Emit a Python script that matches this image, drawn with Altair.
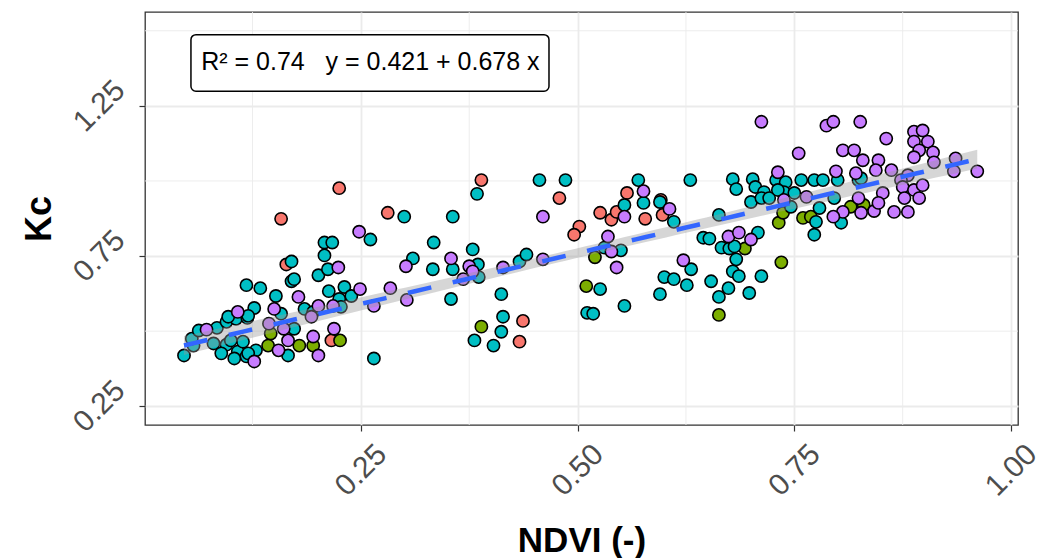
import altair as alt
import numpy as np
import pandas as pd

# ---- data ----
ndvi_red = [0.158, 0.225, 0.281, 0.164, 0.216, 0.389, 0.479, 0.502, 0.496, 0.526,
            0.539, 0.545, 0.557, 0.437, 0.433, 0.578, 0.598, 0.596]
kc_red = [0.874, 0.976, 0.894, 0.722, 0.469, 1.003, 0.943, 0.848, 0.821, 0.894,
          0.871, 0.897, 0.960, 0.534, 0.465, 0.874, 0.887, 0.937]

ndvi_green = [0.146, 0.143, 0.179, 0.195, 0.226, 0.389, 0.510, 0.520, 0.663, 0.693,
              0.735, 0.732, 0.737, 0.760, 0.769, 0.815, 0.830]
kc_green = [0.492, 0.452, 0.452, 0.452, 0.469, 0.515, 0.650, 0.746, 0.554, 0.775,
            0.729, 0.861, 0.894, 0.877, 0.881, 0.914, 0.920]

ndvi_cyan = [0.046, 0.057, 0.055, 0.063, 0.084, 0.095, 0.106, 0.119, 0.127, 0.118,
             0.134, 0.095, 0.108, 0.114, 0.118, 0.129, 0.104, 0.120, 0.097, 0.120,
             0.100, 0.080, 0.089, 0.152, 0.158, 0.185, 0.195, 0.173, 0.166, 0.170,
             0.170, 0.173, 0.201, 0.212, 0.208, 0.208, 0.217, 0.213, 0.231, 0.239,
             0.225, 0.227, 0.261, 0.265, 0.300, 0.356, 0.334, 0.310, 0.333, 0.356,
             0.354, 0.379, 0.385, 0.386, 0.433, 0.441, 0.412, 0.414, 0.412, 0.381,
             0.403, 0.384, 0.456, 0.486, 0.554, 0.531, 0.550, 0.526, 0.554, 0.511,
             0.518, 0.570, 0.630, 0.576, 0.595, 0.611, 0.679, 0.683, 0.702, 0.705,
             0.715, 0.729, 0.740, 0.700, 0.712, 0.721, 0.738, 0.750, 0.746, 0.663,
             0.645, 0.652, 0.708, 0.666, 0.675, 0.683, 0.679, 0.686, 0.712, 0.631,
             0.600, 0.611, 0.626, 0.595, 0.654, 0.674, 0.663, 0.698, 0.681, 0.758,
             0.773, 0.783, 0.800, 0.824, 0.779, 0.796, 0.775, 0.804, 0.773, 0.731,
             0.827]
kc_cyan = [0.419, 0.452, 0.475, 0.502, 0.511, 0.531, 0.541, 0.544, 0.577, 0.653,
           0.643, 0.455, 0.432, 0.465, 0.416, 0.436, 0.409, 0.426, 0.548, 0.551,
           0.469, 0.459, 0.426, 0.617, 0.558, 0.574, 0.564, 0.508, 0.419, 0.732,
           0.666, 0.673, 0.686, 0.706, 0.752, 0.795, 0.795, 0.633, 0.647, 0.617,
           0.607, 0.581, 0.805, 0.409, 0.881, 0.881, 0.795, 0.742, 0.706, 0.706,
           0.607, 0.772, 0.722, 0.680, 0.732, 0.755, 0.623, 0.548, 0.498, 0.469,
           0.452, 0.957, 1.003, 1.003, 0.920, 0.778, 0.769, 0.640, 0.584, 0.561,
           0.558, 1.003, 1.003, 0.927, 0.930, 0.864, 1.006, 0.973, 1.006, 0.980,
           0.963, 1.003, 0.996, 0.930, 0.943, 0.943, 0.963, 0.960, 0.914, 0.887,
           0.811, 0.808, 0.828, 0.778, 0.775, 0.739, 0.699, 0.683, 0.683, 0.706,
           0.680, 0.673, 0.653, 0.623, 0.666, 0.643, 0.614, 0.627, 0.782, 1.003,
           1.003, 1.003, 1.003, 1.003, 0.910, 0.943, 0.864, 0.861, 0.821, 0.970,
           1.009]

ndvi_purple = [0.072, 0.108, 0.127, 0.144, 0.150, 0.166, 0.155, 0.161, 0.178, 0.193,
               0.195, 0.201, 0.218, 0.219, 0.201, 0.224, 0.248, 0.302, 0.354, 0.375,
               0.379, 0.368, 0.414, 0.460, 0.460, 0.303, 0.284, 0.265, 0.249, 0.535,
               0.539, 0.545, 0.554, 0.576, 0.606, 0.622, 0.674, 0.686, 0.700, 0.712,
               0.787, 0.795, 0.826, 0.755, 0.856, 0.888, 0.898, 0.888, 0.904, 0.894,
               0.910, 0.888, 0.911, 0.936, 0.934, 0.961, 0.806, 0.819, 0.829, 0.847,
               0.844, 0.862, 0.798, 0.821, 0.731, 0.881, 0.873, 0.875, 0.888, 0.898,
               0.852, 0.877, 0.894, 0.842, 0.865, 0.881, 0.827, 0.847, 0.824, 0.806,
               0.795, 0.764, 0.738]
kc_purple = [0.505, 0.564, 0.399, 0.525, 0.574, 0.469, 0.436, 0.508, 0.614, 0.548,
             0.482, 0.584, 0.584, 0.508, 0.419, 0.712, 0.831, 0.716, 0.742, 0.716,
             0.699, 0.673, 0.712, 0.739, 0.881, 0.604, 0.643, 0.584, 0.640, 0.815,
             0.765, 0.712, 0.881, 0.966, 0.907, 0.736, 0.815, 0.828, 0.805, 1.197,
             1.184, 1.197, 1.197, 1.092, 1.141, 1.164, 1.168, 1.131, 1.131, 1.102,
             1.095, 1.079, 1.062, 1.075, 1.032, 1.032, 1.102, 1.102, 1.069, 1.069,
             1.036, 1.036, 1.032, 1.026, 1.029, 1.019, 1.003, 0.980, 0.970, 0.986,
             0.960, 0.943, 0.943, 0.900, 0.897, 0.897, 0.894, 0.927, 0.943, 0.897,
             0.881, 0.947, 0.937]

group_names = ["G1", "G2", "G3", "G4"]
group_colors = ["#F8766D", "#7CAE00", "#00BFC4", "#C77CFF"]

intercept = 0.421
slope = 0.678
r2_label = "R² = 0.74\u00a0\u00a0\u00a0y = 0.421 + 0.678 x"

x_major = [0.25, 0.50, 0.75, 1.00]
x_minor = [0.125, 0.375, 0.625, 0.875]
y_major = [0.25, 0.75, 1.25]
y_minor = [0.50, 1.00, 1.50]

# ---- build tables ----
series = [(ndvi_red, kc_red), (ndvi_green, kc_green),
          (ndvi_cyan, kc_cyan), (ndvi_purple, kc_purple)]
rows = []
for g, (xs, ys) in zip(group_names, series):
    for a, b in zip(xs, ys):
        rows.append({"ndvi": a, "kc": b, "group": g})
pts = pd.DataFrame(rows)

X = pts["ndvi"].to_numpy()
Y = pts["kc"].to_numpy()
n = len(X)
res = Y - (intercept + slope * X)
s = np.sqrt(np.sum(res ** 2) / (n - 2))
xbar = X.mean()
sxx = np.sum((X - xbar) ** 2)
xl = np.linspace(X.min(), X.max(), 80)
fitv = intercept + slope * xl
se = s * np.sqrt(1.0 / n + (xl - xbar) ** 2 / sxx)
fit = pd.DataFrame({"ndvi": xl, "fit": fitv, "lo": fitv - 1.97 * se, "hi": fitv + 1.97 * se})

xscale = alt.Scale(domain=[0.001, 1.008], nice=False, zero=False)
yscale = alt.Scale(domain=[0.1875, 1.5625], nice=False, zero=False)

FONT = "Liberation Sans"

xaxis = alt.Axis(values=x_major, format=".2f", labelAngle=-45, labelAlign="center",
                 labelBaseline="middle", labelPadding=39, labelFontSize=30,
                 labelColor="#4D4D4D", labelFont=FONT, labelFlush=False,
                 labelOverlap=False, title="NDVI (-)", titleFont=FONT,
                 titleFontSize=35, titleFontWeight="bold", titleColor="black",
                 titleY=126, titleBaseline="alphabetic", domain=False,
                 tickColor="#333333", tickSize=6, tickWidth=1.2,
                 gridColor="#EBEBEB", gridWidth=1.8)
yaxis = alt.Axis(values=y_major, format=".2f", labelAngle=-45, labelAlign="center",
                 labelBaseline="middle", labelPadding=40, labelFontSize=30,
                 labelColor="#4D4D4D", labelFont=FONT, labelFlush=False,
                 labelOverlap=False, title="Kc", titleFont=FONT,
                 titleFontSize=36, titleFontWeight="bold", titleColor="black",
                 titleAngle=-90, titleX=-95, titleY=206.5, titleAlign="center",
                 titleBaseline="alphabetic", domain=False,
                 tickColor="#333333", tickSize=6, tickWidth=1.2,
                 gridColor="#EBEBEB", gridWidth=1.8)

minor_x = alt.Chart(pd.DataFrame({"v": x_minor})).mark_rule(
    color="#EBEBEB", strokeWidth=0.9).encode(x=alt.X("v:Q", scale=xscale, axis=xaxis))
minor_y = alt.Chart(pd.DataFrame({"v": y_minor})).mark_rule(
    color="#EBEBEB", strokeWidth=0.9).encode(y=alt.Y("v:Q", scale=yscale, axis=yaxis))

points = alt.Chart(pts).mark_circle(size=150, opacity=1, stroke="black",
                                    strokeWidth=1.6).encode(
    x=alt.X("ndvi:Q", scale=xscale, axis=xaxis),
    y=alt.Y("kc:Q", scale=yscale, axis=yaxis),
    color=alt.Color("group:N", scale=alt.Scale(domain=group_names, range=group_colors),
                    legend=None),
)

band = alt.Chart(fit).mark_area(color="#999999", opacity=0.4).encode(
    x="ndvi:Q", y="lo:Q", y2="hi:Q")
line = alt.Chart(fit).mark_line(color="#3366FF", strokeWidth=4.5,
                                strokeDash=[24, 22]).encode(x="ndvi:Q", y="fit:Q")

box = alt.Chart(pd.DataFrame({"x0": [0.054], "x1": [0.467], "y0": [1.299], "y1": [1.487]})).mark_rect(
    fill="white", stroke="black", strokeWidth=1.5, cornerRadius=5).encode(
    x="x0:Q", x2="x1:Q", y="y0:Q", y2="y1:Q")
label = alt.Chart(pd.DataFrame({"x": [0.261], "y": [1.395], "t": [r2_label]})).mark_text(
    font=FONT, fontSize=25, color="black", align="center", baseline="middle").encode(
    x="x:Q", y="y:Q", text="t:N")

chart = alt.layer(minor_x, minor_y, points, band, line, box, label).properties(
    width=873, height=413,
    background="white",
    autosize=alt.AutoSizeParams(type="none"),
    padding={"left": 145, "top": 12, "right": 25, "bottom": 133},
).configure_view(stroke="#333333", strokeWidth=1.3)

chart.save("out.html", embed_options={"renderer": "svg", "actions": False})
